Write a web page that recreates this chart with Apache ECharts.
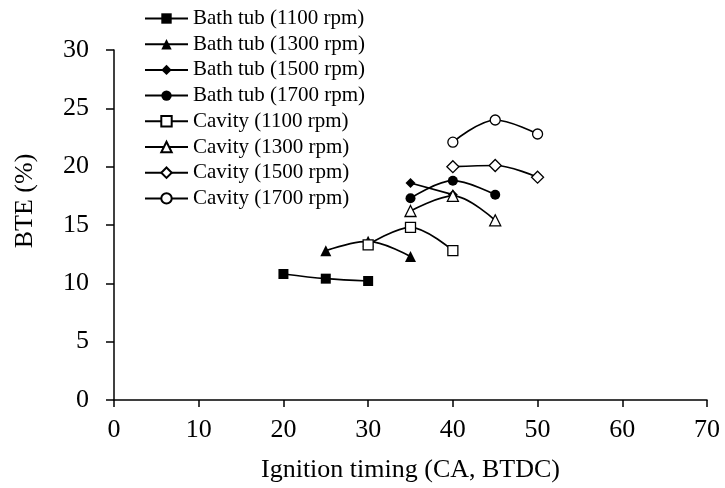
<!DOCTYPE html>
<html><head><meta charset="utf-8">
<script src="https://cdn.jsdelivr.net/npm/echarts@6/dist/echarts.min.js"></script>
<style>html,body{margin:0;padding:0;background:#fff}#c{width:725px;height:488px}</style>
</head><body><div id="c"></div>
<script>
const seriesNames = ['Bath tub (1100 rpm)','Bath tub (1300 rpm)','Bath tub (1500 rpm)','Bath tub (1700 rpm)',
  'Cavity (1100 rpm)','Cavity (1300 rpm)','Cavity (1500 rpm)','Cavity (1700 rpm)'];
const bath1100 = [[20,10.8],[25,10.4],[30,10.2]];
const bath1300 = [[25,12.8],[30,13.6],[35,12.3]];
const bath1500 = [[35,18.6],[40,17.6]];
const bath1700 = [[35,17.3],[40,18.8],[45,17.6]];
const cav1100 = [[30,13.3],[35,14.8],[40,12.8]];
const cav1300 = [[35,16.2],[40,17.5],[45,15.4]];
const cav1500 = [[40,20.0],[45,20.1],[50,19.1]];
const cav1700 = [[40,22.1],[45,24.0],[50,22.8]];
const dataSets = [bath1100,bath1300,bath1500,bath1700,cav1100,cav1300,cav1500,cav1700];
const symbols = ['rect','triangle','diamond','circle','rect','triangle','diamond','circle'];
const symSizes = [10,11,10,10,10,11,12,10];
const xTicks = [0,10,20,30,40,50,60,70];
const yTicks = [0,5,10,15,20,25,30];
const font = 'Liberation Serif';

const series = dataSets.map((d,i)=>({
  name: seriesNames[i], type:'line', data:d, smooth:0.35,
  symbol: symbols[i], symbolSize: symSizes[i], showAllSymbol:true,
  lineStyle:{color:'#000', width:1.7},
  itemStyle:{color: i<4 ? '#000' : '#fff', borderColor:'#000', borderWidth: i<4?0:1.3},
  z: 2 + i
}));

const chart = echarts.init(document.getElementById('c'));
chart.setOption({
  animation:false,
  backgroundColor:'#fff',
  grid:{left:114, right:18, top:50, bottom:86},
  legend:{orient:'vertical', left:139, top:3, itemGap:4.7, itemWidth:43, itemHeight:13,
    textStyle:{fontFamily:font, fontSize:21, color:'#000'},
    data: seriesNames},
  xAxis:{type:'value', min:0, max:70, interval:10,
    name:'Ignition timing (CA, BTDC)', nameLocation:'middle', nameGap:57,
    nameTextStyle:{fontFamily:font, fontSize:26, color:'#000'},
    axisLine:{lineStyle:{color:'#000', width:1.5}},
    axisTick:{show:true, inside:false, length:7, lineStyle:{color:'#000', width:1.5}},
    axisLabel:{fontFamily:font, fontSize:26, color:'#000', margin:17,
      formatter:v=>xTicks.includes(v)?String(v):''},
    splitLine:{show:false}},
  yAxis:{type:'value', min:0, max:30, interval:5,
    name:'BTE (%)', nameLocation:'middle', nameGap:76, nameRotate:90,
    nameTextStyle:{fontFamily:font, fontSize:26, color:'#000', padding:[0,0,0,48]},
    axisLine:{show:true, lineStyle:{color:'#000', width:1.5}},
    axisTick:{show:true, inside:false, length:8, lineStyle:{color:'#000', width:1.5}},
    axisLabel:{fontFamily:font, fontSize:26, color:'#000', margin:25,
      formatter:v=>yTicks.includes(v)?String(v):''},
    splitLine:{show:false}},
  series
});
</script></body></html>
